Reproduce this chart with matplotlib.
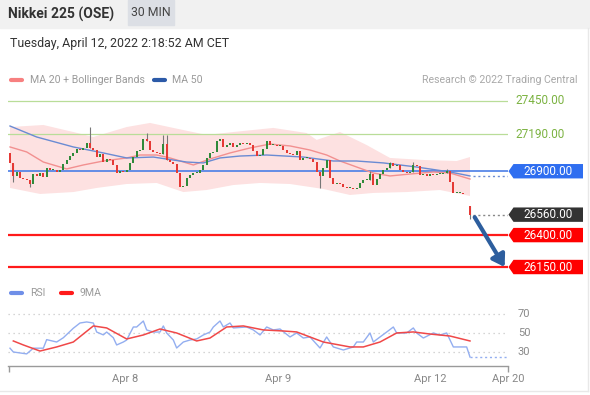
import numpy as np
import matplotlib
matplotlib.use("Agg")
import matplotlib.pyplot as plt
from matplotlib.patches import Rectangle, Polygon
from matplotlib.lines import Line2D
import matplotlib.transforms as mtransforms

plt.rcParams['font.family'] = ['Roboto', 'DejaVu Sans']

# ---------------- data ----------------
title = "Nikkei 225 (OSE)"
interval = "30 MIN"
timestamp = "Tuesday, April 12, 2022 2:18:52 AM CET"
credit = "Research © 2022 Trading Central"
legend_main = ["MA 20 + Bollinger Bands", "MA 50"]
legend_rsi = ["RSI", "9MA"]

nan = np.nan
first_open = 27043
closes = [
    26965, 26863, 26894, 26847, 26839, 26831, 26800, 26878, 26863, 26886,
    26855, 26925, 26910, 26910, 26894, 26910, 26957, 26988, 27019, 27043,
    27074, 27066, 27082, 27121, 27082, 27066, 27011, 27035, 26972, 26996,
    26988, 26949, 26886, 26902, 26894, 26910, 26965, 27011, 27058, 27066,
    27152, 27137, 27066, 27051, 27043, 27035, 27113, 26988, 26972, 26957,
    26886, 26777, 26784, 26847, 26871, 26886, 26886, 26910, 26949, 27004,
    27043, 27051, 27137, 27152, 27090, 27105, 27121, 27090, 27105, 27121,
    27113, 27121, 27105, 27058, 27019, 27027, 27074, 27137, 27105, 27105,
    27098, 27098, 27066, 27043, 27035, 27027, 27058, 26988, 27004, 27004,
    26996, 26972, 26894, 26863, 26925, 26988, 26847, 26800, 26808, 26800,
    26777, 26769, 26769, 26761, 26769, 26808, 26831, 26831, 26878, 26792,
    26839, 26878, 26910, 26925, 26965, 26941, 26949, 26910, 26894, 26886,
    26894, 26949, 26941, 26871, 26878, 26863, 26878, 26871, 26878, 26878,
    26886, 26902, 26816, 26730, 26730, 26730, 26722, nan, 26560]
gap_opens = {138: 26628}
wick_highs = {24: 27246, 41: 27199, 46: 27184, 47: 27184, 108: 26902,
              114: 26972, 121: 26972, 131: 26918}
wick_lows = {1: 26816, 6: 26777, 93: 26769, 138: 26526}

ma50_bars = [0, 8, 19, 28, 35, 43, 53, 58, 63, 69, 77, 88, 97, 104, 112, 122, 132, 138]
ma50_vals = [27254, 27168, 27090, 27043, 27004, 27011, 26972, 26965, 27004, 27019,
             27027, 27011, 26980, 26980, 26965, 26933, 26894, 26863]

ma20_bars = [0, 5, 10, 17, 22, 28, 35, 39, 44, 48, 55, 60, 66, 72, 78, 84, 90, 95,
             99, 104, 109, 114, 120, 127, 132, 138]
ma20_vals = [27090, 27051, 26972, 26918, 26949, 26980, 27004, 27027, 27027, 27004,
             26949, 26996, 27043, 27082, 27113, 27098, 27066, 27027, 26980, 26933,
             26886, 26863, 26878, 26894, 26886, 26839]

bb_up_bars = [0, 10, 19, 25, 35, 42, 49, 59, 67, 79, 89, 92, 99, 107, 114, 124, 134, 138]
bb_up_vals = [27246, 27262, 27207, 27168, 27246, 27278, 27239, 27184, 27207, 27239,
              27199, 27145, 27207, 27105, 27004, 26988, 26980, 27011]
bb_lo_bars = [0, 9, 19, 26, 35, 44, 52, 59, 67, 75, 84, 94, 102, 109, 119, 129, 138]
bb_lo_vals = [26769, 26722, 26737, 26769, 26800, 26808, 26737, 26753, 26792, 26808,
              26800, 26761, 26714, 26730, 26737, 26753, 26706]

resistances = [27450, 27190]
pivot = 26900
supports = [26400, 26150]
last_price = 26560

rsi_bars = [0, 1, 5, 7, 10, 11, 14, 16, 19, 21, 23, 25, 26, 28, 29, 31, 32, 34, 35,
            37, 38, 40, 41, 43, 45, 46, 47, 49, 50, 52, 54, 56, 58, 60, 61, 63, 64,
            66, 67, 71, 73, 75, 77, 79, 81, 84, 86, 88, 90, 93, 95, 97, 100, 103,
            104, 106, 108, 109, 111, 113, 115, 116, 119, 121, 122, 124, 127, 129,
            131, 133, 137, 138]
rsi_vals = [34, 30, 28, 34, 34, 43, 40.5, 45, 55, 60.5, 61.6, 60.5, 51, 48, 51, 45,
            37.4, 40.5, 42.6, 56.3, 56.3, 62.6, 53.2, 51, 51, 57.4, 50, 42.6, 34.2,
            40.5, 42.6, 43.7, 47.9, 51, 56.3, 62.6, 56.3, 60.5, 55.3, 56.3, 53.2,
            47.9, 56.3, 53.2, 54.2, 45.8, 50, 44.7, 45.8, 34.2, 45.8, 35.3, 32.1,
            35.3, 40.5, 40.5, 50, 40.5, 45.8, 51, 56.3, 50, 50, 55.3, 50, 44.7, 50,
            47.9, 50, 35.3, 35.3, 24.7]
rsi_ma_bars = [1, 4, 9, 14, 19, 25, 29, 35, 40, 45, 50, 56, 60, 65, 70, 76, 82, 86,
               94, 102, 106, 111, 116, 121, 126, 132, 138]
rsi_ma_vals = [41.6, 37.4, 31, 35.3, 40.5, 57.4, 55.3, 43.7, 47.9, 54.2, 50, 41.6,
               44.7, 56.3, 57.4, 53.2, 52.1, 51.1, 40.5, 35.3, 35.3, 40.5, 50, 51.1,
               48.9, 46.8, 41.6]
rsi_levels = [70, 50, 30]

tick_pos = [34.5, 80.4, 126, 149.4]
tick_labels = ["Apr 8", "Apr 9", "Apr 12", "Apr 20"]

# ---------------- figure ----------------
W, H = 590, 395
fig = plt.figure(figsize=(W / 100, H / 100), dpi=100)
fig.patch.set_facecolor('white')


def fx(px):
    return px / W


def fy(py):
    return 1 - py / H


def px_rect(l, t, r, b):
    return [l / W, 1 - b / H, (r - l) / W, (b - t) / H]


def fig_line(x0, x1, y0, y1, **kw):
    fig.add_artist(Line2D([fx(x0), fx(x1)], [fy(y0), fy(y1)],
                          transform=fig.transFigure, **kw))


# header
fig.add_artist(Rectangle((0, fy(28)), 1, 28 / H, transform=fig.transFigure,
                         color='#f1f1f1', zorder=0))
fig.add_artist(Rectangle((fx(128), fy(25)), 46 / W, 25 / H, transform=fig.transFigure,
                         color='#dcdfe5', zorder=1))
fig.text(fx(8), fy(14), title, fontsize=10, fontweight='bold', color='#333333',
         va='center', ha='left')
fig.text(fx(151), fy(13), interval, fontsize=8.8, color='#444444', va='center', ha='center')
fig.text(fx(10), fy(43), timestamp, fontsize=8.9, color='#333333', va='center', ha='left')

# frame lines
fig_line(587.5, 587.5, 28, 390.5, color='#e8e8e8', lw=1)
fig_line(0, 587.5, 390.5, 390.5, color='#e8e8e8', lw=1)

# main legend
fig_line(11, 22, 80, 80, color='#f78080', lw=3, solid_capstyle='round')
fig.text(fx(30), fy(80), legend_main[0], fontsize=7.6, color='#9a9a9a', va='center')
fig_line(154, 165, 80, 80, color='#2c5aa8', lw=3, solid_capstyle='round')
fig.text(fx(172), fy(80), legend_main[1], fontsize=7.6, color='#9a9a9a', va='center')
fig.text(fx(578), fy(80), credit, fontsize=7.6, color='#a8a8a8', va='center', ha='right')

# ---------------- price panel ----------------
n = len(closes)
xmin, xmax = -0.6, 149.4
ylo, yhi = 26050, 27550
ax = fig.add_axes(px_rect(8, 88.2, 508, 279.8))
ax.set_xlim(xmin, xmax)
ax.set_ylim(ylo, yhi)
ax.axis('off')

# bollinger band
ax.fill(np.r_[bb_up_bars, bb_lo_bars[::-1]], np.r_[bb_up_vals, bb_lo_vals[::-1]],
        color='#fde1e1', lw=0, zorder=1)
# moving averages
ax.plot(ma20_bars, ma20_vals, color='#f29090', lw=1.0, zorder=2)
ax.plot(ma50_bars, ma50_vals, color='#6a8bd3', lw=1.0, zorder=2)
ax.plot([ma50_bars[-1] + 1, xmax], [ma50_vals[-1]] * 2, ls=(0, (1.5, 2)),
        color='#6a8bd3', lw=1.0, zorder=2)

# levels
for r in resistances:
    ax.axhline(r, color='#b9dd98', lw=0.9, zorder=1.5)
ax.axhline(pivot, color='#4a7ee6', lw=1.2, zorder=1.5)
for s in supports:
    ax.axhline(s, color='#ff1a1a', lw=1.6, zorder=1.5)

# candles
opens = []
prev = first_open
for i, c in enumerate(closes):
    o = gap_opens.get(i, prev)
    opens.append(o)
    if not np.isnan(c):
        prev = c
for i, (o, c) in enumerate(zip(opens, closes)):
    if np.isnan(c):
        continue
    col = '#2f8a3a' if c >= o else '#e53935'
    hi = wick_highs.get(i, max(o, c))
    lo = wick_lows.get(i, min(o, c))
    if hi > max(o, c) or lo < min(o, c):
        ax.vlines(i, lo, hi, color='#777777', lw=0.8, zorder=3)
    h = max(abs(c - o), 8)
    ax.bar(i, h, bottom=min(o, c), width=0.68, color=col, lw=0, zorder=4)

# last price dotted
last_i = n - 1
ax.plot([last_i + 1, xmax], [last_price] * 2, ls=(0, (1.5, 2)), color='#888888', lw=1,
        zorder=2)

# forecast arrow
ax.annotate('', xy=(148.4, supports[-1]), xytext=(last_i + 1.4, last_price - 20),
            arrowprops=dict(arrowstyle='-|>,head_length=0.7,head_width=0.45',
                            color='#2d5e9e', lw=3.0, shrinkA=0, shrinkB=0),
            annotation_clip=False, zorder=5)

# tags
blend = mtransforms.blended_transform_factory(fig.transFigure, ax.transData)
dpp = (yhi - ylo) / (279.8 - 88.2)  # price units per pixel


def tag(price, face, label):
    hh = 7.2 * dpp
    verts = [(fx(508.5), price), (fx(513.5), price + hh), (fx(583), price + hh),
             (fx(583), price - hh), (fx(513.5), price - hh)]
    ax.add_patch(Polygon(verts, closed=True, transform=blend, facecolor=face,
                         edgecolor='none', clip_on=False, zorder=6))
    ax.text(fx(548.5), price, label, transform=blend, color='white', fontsize=8.5,
            ha='center', va='center', clip_on=False, zorder=7)


for r in resistances:
    ax.text(fx(540), r, f"{r:.2f}", transform=blend, color='#7cb342', fontsize=8.5,
            ha='center', va='center', clip_on=False)
tag(pivot, '#2f6ef0', f"{pivot:.2f}")
tag(last_price, '#333333', f"{last_price:.2f}")
for s in supports:
    tag(s, '#ff0000', f"{s:.2f}")

# ---------------- RSI panel ----------------
rax = fig.add_axes(px_rect(8, 300, 508, 366))
rax.set_xlim(xmin, xmax)
rax.set_ylim(15.26, 84.7)
for sp in ['top', 'right', 'left']:
    rax.spines[sp].set_visible(False)
rax.spines['bottom'].set_color('#9a9a9a')
rax.spines['bottom'].set_linewidth(1.0)
rax.set_yticks([])
rax.set_xticks(tick_pos, tick_labels)
rax.tick_params(axis='x', length=0, pad=6, labelsize=8, labelcolor='#888888')
rax.set_xticks([xmin + 0.15, xmax - 0.15], minor=True)
rax.tick_params(axis='x', which='minor', length=4, width=1, color='#9a9a9a', direction='out')
rax.patch.set_alpha(0)

for lv in rsi_levels:
    rax.axhline(lv, ls=(0, (1, 3)), color='#c8c8c8', lw=0.9, zorder=1)
    rax.text(1.02, lv, str(lv), transform=mtransforms.blended_transform_factory(
        rax.transAxes, rax.transData), fontsize=8, color='#888888', va='center',
        ha='left', clip_on=False)

rax.plot(rsi_bars, rsi_vals, color='#93aef0', lw=1.0, zorder=2)
rax.plot([rsi_bars[-1], xmax], [rsi_vals[-1]] * 2, ls=(0, (1.5, 2)), color='#93aef0',
         lw=1.0, zorder=2)
rax.plot(rsi_ma_bars, rsi_ma_vals, color='#f04848', lw=1.1, zorder=3)

# RSI legend
fig_line(11, 22, 293, 293, color='#6f8fe8', lw=3, solid_capstyle='round')
fig.text(fx(30), fy(293), legend_rsi[0], fontsize=7.6, color='#9a9a9a', va='center')
fig_line(61, 72, 293, 293, color='#ff1a1a', lw=3, solid_capstyle='round')
fig.text(fx(79), fy(293), legend_rsi[1], fontsize=7.6, color='#9a9a9a', va='center')

fig.savefig('out.png', dpi=100)
